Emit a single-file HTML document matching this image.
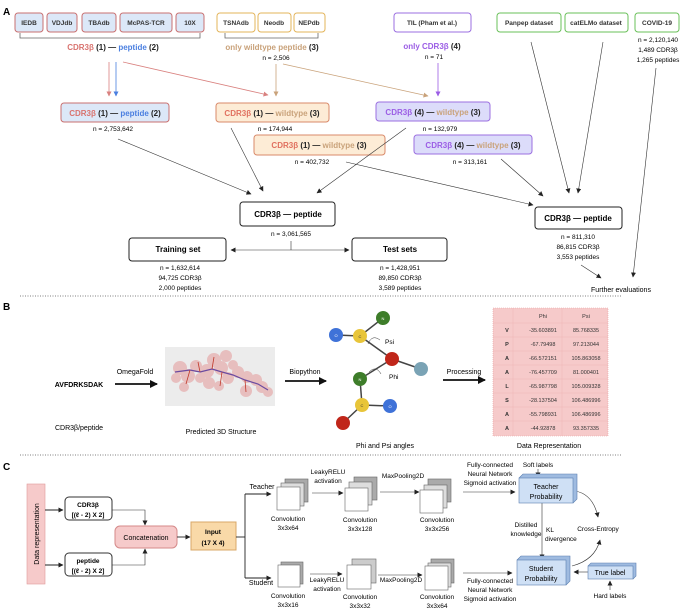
<!DOCTYPE html>
<html><head><meta charset="utf-8"><style>
html,body{margin:0;padding:0;background:#fff;}
svg{display:block;font-family:"Liberation Sans",Arial,sans-serif;}
.b{font-weight:bold;}
</style></head><body>
<svg width="686" height="610" viewBox="0 0 686 610" xmlns="http://www.w3.org/2000/svg">
<defs>
<marker id="ak" markerWidth="5" markerHeight="5" refX="4.5" refY="2.5" orient="auto" markerUnits="userSpaceOnUse"><path d="M0,0 L5,2.5 L0,5z" fill="#222"/></marker>
<marker id="ar" markerWidth="5" markerHeight="5" refX="4.5" refY="2.5" orient="auto" markerUnits="userSpaceOnUse"><path d="M0,0 L5,2.5 L0,5z" fill="#d9817f"/></marker>
<marker id="ab" markerWidth="5" markerHeight="5" refX="4.5" refY="2.5" orient="auto" markerUnits="userSpaceOnUse"><path d="M0,0 L5,2.5 L0,5z" fill="#4a7fe0"/></marker>
<marker id="ao" markerWidth="5" markerHeight="5" refX="4.5" refY="2.5" orient="auto" markerUnits="userSpaceOnUse"><path d="M0,0 L5,2.5 L0,5z" fill="#c9a27a"/></marker>
<marker id="ap" markerWidth="5" markerHeight="5" refX="4.5" refY="2.5" orient="auto" markerUnits="userSpaceOnUse"><path d="M0,0 L5,2.5 L0,5z" fill="#9b5de5"/></marker>
<marker id="aB" markerWidth="8" markerHeight="8" refX="7" refY="4" orient="auto" markerUnits="userSpaceOnUse"><path d="M0,0 L8,4 L0,8z" fill="#111"/></marker>
</defs>

<!-- ===== A ===== -->
<text x="3" y="15" font-size="10" class="b">A</text>
<g fill="#dce8f8" stroke="#c97070" stroke-width="1">
<rect x="15" y="13" width="28" height="19" rx="3"/>
<rect x="47" y="13" width="30" height="19" rx="3"/>
<rect x="82" y="13" width="34" height="19" rx="3"/>
<rect x="120" y="13" width="52" height="19" rx="3"/>
<rect x="176" y="13" width="28" height="19" rx="3"/>
</g>
<g font-size="6.5" class="b" text-anchor="middle" fill="#333">
<text x="29" y="25">IEDB</text><text x="62" y="25">VDJdb</text><text x="99" y="25">TBAdb</text><text x="146" y="25">McPAS-TCR</text><text x="190" y="25">10X</text>
</g>
<g fill="#fff" stroke="#e3b45a" stroke-width="1">
<rect x="217" y="13" width="38" height="19" rx="3"/>
<rect x="258" y="13" width="33" height="19" rx="3"/>
<rect x="294" y="13" width="31" height="19" rx="3"/>
</g>
<g font-size="6.5" class="b" text-anchor="middle" fill="#333">
<text x="236" y="25">TSNAdb</text><text x="274" y="25">Neodb</text><text x="309" y="25">NEPdb</text>
</g>
<path d="M20,33 V38 H200 V33" fill="none" stroke="#666" stroke-width="0.8"/>
<path d="M225,33 V38 H318 V33" fill="none" stroke="#666" stroke-width="0.8"/>
<text x="113" y="50" font-size="8" class="b" text-anchor="middle"><tspan fill="#d9736f">CDR3β</tspan><tspan fill="#222"> (1) — </tspan><tspan fill="#4a7fe0">peptide</tspan><tspan fill="#222"> (2)</tspan></text>
<text x="272" y="50" font-size="8" class="b" text-anchor="middle"><tspan fill="#c9a27a">only wildtype peptide</tspan><tspan fill="#222"> (3)</tspan></text>
<text x="276" y="60" font-size="6.5" text-anchor="middle">n = 2,506</text>

<rect x="394" y="13" width="77" height="19" rx="3" fill="#fff" stroke="#9b6fe0"/>
<text x="432" y="25" font-size="6.5" class="b" text-anchor="middle" fill="#333">TIL (Pham et al.)</text>
<text x="432" y="49" font-size="8" class="b" text-anchor="middle"><tspan fill="#9b5de5">only CDR3β</tspan><tspan fill="#222"> (4)</tspan></text>
<text x="434" y="59" font-size="6.5" text-anchor="middle">n = 71</text>

<g fill="#fff" stroke="#6ac05a" stroke-width="1">
<rect x="497" y="13" width="64" height="19" rx="3"/>
<rect x="565" y="13" width="63" height="19" rx="3"/>
<rect x="635" y="13" width="44" height="19" rx="3"/>
</g>
<g font-size="6.5" class="b" text-anchor="middle" fill="#333">
<text x="529" y="25">Panpep dataset</text><text x="596" y="25">catELMo dataset</text><text x="657" y="25">COVID-19</text>
</g>
<g font-size="6.5" text-anchor="middle"><text x="658" y="42">n = 2,120,140</text><text x="658" y="52">1,489 CDR3β</text><text x="658" y="62">1,265 peptides</text></g>

<line x1="109" y1="62" x2="109" y2="96" stroke="#d9817f" stroke-width="0.8" marker-end="url(#ar)"/>
<line x1="116" y1="62" x2="116" y2="96" stroke="#4a7fe0" stroke-width="0.8" marker-end="url(#ab)"/>
<line x1="123" y1="62" x2="268" y2="95" stroke="#d9817f" stroke-width="0.8" marker-end="url(#ar)"/>
<line x1="276" y1="64" x2="276" y2="96" stroke="#c9a27a" stroke-width="0.8" marker-end="url(#ao)"/>
<line x1="283" y1="64" x2="428" y2="96" stroke="#c9a27a" stroke-width="0.8" marker-end="url(#ao)"/>
<line x1="438" y1="63" x2="438" y2="96" stroke="#9b5de5" stroke-width="0.8" marker-end="url(#ap)"/>

<rect x="61" y="103" width="108" height="19" rx="3" fill="#dce8f8" stroke="#c97070"/>
<text x="115" y="116" font-size="8" class="b" text-anchor="middle"><tspan fill="#d9736f">CDR3β</tspan><tspan fill="#222"> (1) — </tspan><tspan fill="#4a7fe0">peptide</tspan><tspan fill="#222"> (2)</tspan></text>
<text x="113" y="131" font-size="6.5" text-anchor="middle">n = 2,753,642</text>

<rect x="216" y="103" width="113" height="19" rx="3" fill="#fdecd6" stroke="#d98a6a"/>
<text x="272" y="116" font-size="8" class="b" text-anchor="middle"><tspan fill="#e0705f">CDR3β</tspan><tspan fill="#222"> (1) — </tspan><tspan fill="#c9a27a">wildtype</tspan><tspan fill="#222"> (3)</tspan></text>
<text x="275" y="131" font-size="6.5" text-anchor="middle">n = 174,944</text>

<rect x="376" y="102" width="114" height="19" rx="3" fill="#dcdcfa" stroke="#9b6fe0"/>
<text x="433" y="115" font-size="8" class="b" text-anchor="middle"><tspan fill="#9b5de5">CDR3β</tspan><tspan fill="#222"> (4) — </tspan><tspan fill="#c9a27a">wildtype</tspan><tspan fill="#222"> (3)</tspan></text>
<text x="440" y="131" font-size="6.5" text-anchor="middle">n = 132,979</text>

<rect x="254" y="135" width="131" height="20" rx="3" fill="#fdecd6" stroke="#d98a6a"/>
<text x="319" y="148" font-size="8" class="b" text-anchor="middle"><tspan fill="#e0705f">CDR3β</tspan><tspan fill="#222"> (1) — </tspan><tspan fill="#c9a27a">wildtype</tspan><tspan fill="#222"> (3)</tspan></text>
<text x="312" y="164" font-size="6.5" text-anchor="middle">n = 402,732</text>

<rect x="414" y="135" width="118" height="19" rx="3" fill="#dcdcfa" stroke="#9b6fe0"/>
<text x="473" y="148" font-size="8" class="b" text-anchor="middle"><tspan fill="#9b5de5">CDR3β</tspan><tspan fill="#222"> (4) — </tspan><tspan fill="#c9a27a">wildtype</tspan><tspan fill="#222"> (3)</tspan></text>
<text x="470" y="164" font-size="6.5" text-anchor="middle">n = 313,161</text>

<g stroke="#333" stroke-width="0.6" fill="none" marker-end="url(#ak)">
<line x1="118" y1="139" x2="251" y2="194"/>
<line x1="231" y1="128" x2="263" y2="191"/>
<line x1="406" y1="128" x2="317" y2="193"/>
<line x1="346" y1="162" x2="533" y2="205"/>
<line x1="501" y1="159" x2="543" y2="196"/>
<line x1="531" y1="42" x2="569" y2="193"/>
<line x1="603" y1="42" x2="578" y2="193"/>
<line x1="656" y1="68" x2="633" y2="277"/>
<line x1="581" y1="265" x2="601" y2="278"/>
</g>

<rect x="240" y="202" width="95" height="24" rx="3" fill="#fff" stroke="#222"/>
<text x="288" y="217" font-size="8" class="b" text-anchor="middle">CDR3β — peptide</text>
<text x="291" y="236" font-size="6.5" text-anchor="middle">n = 3,061,565</text>
<path d="M291,241 V250" stroke="#333" stroke-width="0.6"/>
<line x1="291" y1="250" x2="231" y2="250" stroke="#333" stroke-width="0.6" marker-end="url(#ak)"/>
<line x1="291" y1="250" x2="349" y2="250" stroke="#333" stroke-width="0.6" marker-end="url(#ak)"/>
<rect x="129" y="238" width="97" height="23" rx="3" fill="#fff" stroke="#222"/>
<text x="178" y="252" font-size="8" class="b" text-anchor="middle">Training set</text>
<g font-size="6.5" text-anchor="middle"><text x="180" y="270">n = 1,632,614</text><text x="180" y="280">94,725 CDR3β</text><text x="180" y="290">2,000 peptides</text></g>
<rect x="352" y="238" width="95" height="23" rx="3" fill="#fff" stroke="#222"/>
<text x="400" y="252" font-size="8" class="b" text-anchor="middle">Test sets</text>
<g font-size="6.5" text-anchor="middle"><text x="400" y="270">n = 1,428,951</text><text x="400" y="280">89,850 CDR3β</text><text x="400" y="290">3,589 peptides</text></g>

<rect x="535" y="207" width="87" height="22" rx="3" fill="#fff" stroke="#222"/>
<text x="578" y="221" font-size="8" class="b" text-anchor="middle">CDR3β — peptide</text>
<g font-size="6.5" text-anchor="middle"><text x="578" y="239">n = 811,310</text><text x="578" y="249">86,815 CDR3β</text><text x="578" y="259">3,553 peptides</text></g>
<text x="621" y="292" font-size="7" text-anchor="middle">Further evaluations</text>

<line x1="20" y1="296" x2="622" y2="296" stroke="#555" stroke-width="0.8" stroke-dasharray="1,1.5"/>

<!-- ===== B ===== -->
<text x="3" y="310" font-size="10" class="b">B</text>
<text x="79" y="387" font-size="7" class="b" text-anchor="middle">AVFDRKSDAK</text>
<text x="79" y="430" font-size="7" text-anchor="middle">CDR3β/peptide</text>
<line x1="115" y1="384" x2="157" y2="384" stroke="#111" stroke-width="1.8" marker-end="url(#aB)"/>
<text x="135" y="374" font-size="7" text-anchor="middle">OmegaFold</text>
<rect x="165" y="347" width="110" height="59" fill="#ececec"/>
<g fill="#e07a7a" opacity="0.4">
<circle cx="180" cy="368" r="7"/><circle cx="188" cy="376" r="7"/><circle cx="196" cy="366" r="6"/><circle cx="207" cy="371" r="7"/>
<circle cx="214" cy="360" r="7"/><circle cx="221" cy="368" r="7"/><circle cx="226" cy="356" r="6"/><circle cx="209" cy="383" r="6"/>
<circle cx="228" cy="378" r="6"/><circle cx="238" cy="372" r="6"/><circle cx="247" cy="377" r="6"/><circle cx="256" cy="380" r="6"/>
<circle cx="262" cy="387" r="6"/><circle cx="246" cy="391" r="6"/><circle cx="184" cy="387" r="5"/><circle cx="268" cy="392" r="5"/>
<circle cx="200" cy="378" r="5"/><circle cx="233" cy="365" r="5"/><circle cx="219" cy="386" r="5"/><circle cx="176" cy="378" r="5"/>
</g>
<path d="M175,372 L190,370 L200,372 L212,369 L222,372 L233,375 L245,380 L258,384 L268,390" stroke="#6a4aa0" stroke-width="1.2" fill="none"/>
<path d="M190,370 L186,384 M212,369 L214,357 M222,372 L220,386 M245,380 L246,392 M200,372 L198,362" stroke="#c0392b" stroke-width="0.8" fill="none"/>
<text x="221" y="434" font-size="7" text-anchor="middle">Predicted 3D Structure</text>
<line x1="285" y1="381" x2="326" y2="381" stroke="#111" stroke-width="1.8" marker-end="url(#aB)"/>
<text x="305" y="374" font-size="7" text-anchor="middle">Biopython</text>

<g stroke="#444" stroke-width="1.5">
<line x1="336" y1="335" x2="360" y2="336"/><line x1="360" y1="336" x2="383" y2="318"/>
<line x1="360" y1="336" x2="392" y2="359"/><line x1="392" y1="359" x2="421" y2="369"/>
<line x1="392" y1="359" x2="360" y2="379"/><line x1="360" y1="379" x2="362" y2="405"/>
<line x1="362" y1="405" x2="390" y2="406"/><line x1="362" y1="405" x2="343" y2="423"/>
</g>
<g stroke="#333" stroke-width="0.5" fill="none">
<path d="M368,344 Q372,334 380,340" /><path d="M369,372 Q376,365 381,374"/>
</g>
<circle cx="383" cy="318" r="7" fill="#3e7d2a"/><circle cx="360" cy="336" r="7" fill="#e8c53a"/>
<circle cx="336" cy="335" r="7" fill="#3f72d8"/><circle cx="392" cy="359" r="7" fill="#c0261a"/>
<circle cx="421" cy="369" r="7" fill="#7aa3b5"/><circle cx="360" cy="379" r="7" fill="#3e7d2a"/>
<circle cx="362" cy="405" r="7" fill="#e8c53a"/><circle cx="390" cy="406" r="7" fill="#3f72d8"/>
<circle cx="343" cy="423" r="7" fill="#c0261a"/>
<g font-size="4" text-anchor="middle" fill="#fff"><text x="383" y="320">N</text><text x="360" y="338" fill="#333">C</text><text x="336" y="337">O</text><text x="360" y="381">N</text><text x="362" y="407" fill="#333">C</text><text x="390" y="408">O</text></g>
<text x="385" y="344" font-size="6.5">Psi</text><text x="389" y="379" font-size="6.5">Phi</text>
<text x="385" y="448" font-size="7" text-anchor="middle">Phi and Psi angles</text>
<line x1="443" y1="380" x2="485" y2="380" stroke="#111" stroke-width="1.8" marker-end="url(#aB)"/>
<text x="464" y="374" font-size="7" text-anchor="middle">Processing</text>

<rect x="493" y="308" width="115" height="128" fill="#f6caca" stroke="#e7a0a0" stroke-width="0.6" stroke-dasharray="1,1"/>
<g stroke="#efb6b6" stroke-width="0.5"><line x1="513" y1="308" x2="513" y2="436"/><line x1="562" y1="308" x2="562" y2="436"/>
<line x1="493" y1="323" x2="608" y2="323"/><line x1="493" y1="337" x2="608" y2="337"/><line x1="493" y1="351" x2="608" y2="351"/><line x1="493" y1="365" x2="608" y2="365"/><line x1="493" y1="379" x2="608" y2="379"/><line x1="493" y1="393" x2="608" y2="393"/><line x1="493" y1="407" x2="608" y2="407"/><line x1="493" y1="421" x2="608" y2="421"/></g>
<g font-size="5.5" text-anchor="middle" fill="#333">
<text x="543" y="318">Phi</text><text x="586" y="318">Psi</text>
<g class="b"><text x="507" y="332">V</text><text x="507" y="346">P</text><text x="507" y="360">A</text><text x="507" y="374">A</text><text x="507" y="388">L</text><text x="507" y="402">S</text><text x="507" y="416">A</text><text x="507" y="430">A</text></g>
<text x="543" y="332">-35.603891</text><text x="586" y="332">85.768335</text>
<text x="543" y="346">-67.79498</text><text x="586" y="346">97.213044</text>
<text x="543" y="360">-66.572151</text><text x="586" y="360">105.863058</text>
<text x="543" y="374">-76.457709</text><text x="586" y="374">81.000401</text>
<text x="543" y="388">-65.987798</text><text x="586" y="388">105.009328</text>
<text x="543" y="402">-28.137504</text><text x="586" y="402">106.486996</text>
<text x="543" y="416">-55.798931</text><text x="586" y="416">106.486996</text>
<text x="543" y="430">-44.92878</text><text x="586" y="430">93.357335</text>
</g>
<text x="549" y="448" font-size="7" text-anchor="middle">Data Representation</text>

<line x1="20" y1="455" x2="622" y2="455" stroke="#555" stroke-width="0.8" stroke-dasharray="1,1.5"/>

<!-- ===== C ===== -->
<text x="3" y="470" font-size="10" class="b">C</text>
<rect x="27" y="484" width="18" height="100" fill="#f6caca" stroke="#e09a9a" stroke-width="0.6"/>
<text transform="translate(39,534) rotate(-90)" font-size="7" text-anchor="middle">Data representation</text>
<line x1="45" y1="510" x2="63" y2="510" stroke="#222" stroke-width="0.9" marker-end="url(#ak)"/>
<line x1="45" y1="565" x2="63" y2="565" stroke="#222" stroke-width="0.9" marker-end="url(#ak)"/>
<rect x="65" y="497" width="47" height="23" rx="4" fill="#fff" stroke="#333"/>
<text x="88" y="507" font-size="6.5" class="b" text-anchor="middle">CDR3β</text>
<text x="88" y="517" font-size="6.5" class="b" text-anchor="middle">[(ℓ - 2) X 2]</text>
<rect x="65" y="553" width="47" height="23" rx="4" fill="#fff" stroke="#333"/>
<text x="88" y="563" font-size="6.5" class="b" text-anchor="middle">peptide</text>
<text x="88" y="573" font-size="6.5" class="b" text-anchor="middle">[(ℓ - 2) X 2]</text>
<path d="M112,510 H145 V525" stroke="#333" stroke-width="0.6" fill="none" marker-end="url(#ak)"/>
<path d="M112,565 H145 V549" stroke="#333" stroke-width="0.6" fill="none" marker-end="url(#ak)"/>
<rect x="115" y="526" width="62" height="22" rx="5" fill="#f6caca" stroke="#d58a8a"/>
<text x="146" y="540" font-size="7" text-anchor="middle">Concatenation</text>
<line x1="177" y1="537" x2="190" y2="537" stroke="#222" stroke-width="0.9" marker-end="url(#ak)"/>
<rect x="191" y="522" width="45" height="28" fill="#f9d9a8" stroke="#d9a868"/>
<text x="213" y="534" font-size="6.5" class="b" text-anchor="middle">Input</text>
<text x="213" y="545" font-size="6.5" class="b" text-anchor="middle">(17 X 4)</text>
<path d="M236,537 H245" stroke="#222" stroke-width="0.9"/>
<path d="M245,494 V578" stroke="#222" stroke-width="0.9"/>
<line x1="245" y1="494" x2="271" y2="494" stroke="#222" stroke-width="0.9" marker-end="url(#ak)"/>
<line x1="245" y1="578" x2="271" y2="578" stroke="#222" stroke-width="0.9" marker-end="url(#ak)"/>
<text x="262" y="489" font-size="7" text-anchor="middle">Teacher</text>
<text x="261" y="585" font-size="7" text-anchor="middle">Student</text>

<g stroke="#666" stroke-width="0.6">
<rect x="285" y="479" width="23" height="23" fill="#aaa"/><rect x="281" y="483" width="23" height="23" fill="#ddd"/><rect x="277" y="487" width="23" height="23" fill="#fff"/>
<rect x="354" y="477" width="23" height="23" fill="#aaa"/><rect x="349" y="482" width="23" height="23" fill="#ddd"/><rect x="345" y="488" width="23" height="23" fill="#fff"/>
<rect x="428" y="479" width="23" height="23" fill="#aaa"/><rect x="424" y="485" width="23" height="23" fill="#ddd"/><rect x="420" y="490" width="23" height="23" fill="#fff"/>
<rect x="281" y="562" width="22" height="22" fill="#aaa"/><rect x="278" y="565" width="22" height="22" fill="#fff"/>
<rect x="352" y="559" width="24" height="24" fill="#ccc"/><rect x="347" y="565" width="24" height="24" fill="#fff"/>
<rect x="431" y="559" width="23" height="24" fill="#aaa"/><rect x="428" y="563" width="23" height="24" fill="#ddd"/><rect x="425" y="566" width="23" height="24" fill="#fff"/>
</g>
<g font-size="6.5" text-anchor="middle">
<text x="288" y="521">Convolution</text><text x="288" y="530">3x3x64</text>
<text x="360" y="522">Convolution</text><text x="360" y="531">3x3x128</text>
<text x="437" y="522">Convolution</text><text x="437" y="531">3x3x256</text>
<text x="288" y="598">Convolution</text><text x="288" y="607">3x3x16</text>
<text x="360" y="599">Convolution</text><text x="360" y="608">3x3x32</text>
<text x="437" y="599">Convolution</text><text x="437" y="608">3x3x64</text>
<text x="328" y="474">LeakyRELU</text><text x="328" y="483">activation</text>
<text x="327" y="582">LeakyRELU</text><text x="327" y="591">activation</text>
<text x="403" y="478">MaxPooling2D</text><text x="401" y="582">MaxPooling2D</text>
<text x="490" y="467">Fully-connected</text><text x="490" y="476">Neural Network</text><text x="490" y="485">Sigmoid activation</text>
<text x="490" y="583">Fully-connected</text><text x="490" y="592">Neural Network</text><text x="490" y="601">Sigmoid activation</text>
</g>
<g stroke="#333" stroke-width="0.6" marker-end="url(#ak)">
<line x1="312" y1="493" x2="343" y2="493"/>
<line x1="380" y1="492" x2="419" y2="492"/>
<line x1="463" y1="492" x2="515" y2="492"/>
<line x1="310" y1="574" x2="342" y2="574"/>
<line x1="378" y1="575" x2="422" y2="575"/>
<line x1="463" y1="573" x2="512" y2="573"/>
<line x1="538" y1="469" x2="538" y2="477"/>
<line x1="542" y1="503" x2="542" y2="559"/>
<line x1="588" y1="572" x2="574" y2="572"/>
<line x1="610" y1="590" x2="610" y2="581"/>
<path d="M575,491 Q593,494 598,517" fill="none"/>
<path d="M572,566 Q595,560 600,540" fill="none"/>
</g>
<path d="M519,478 L523,474 L577,474 L577,499 L573,503" fill="#9fbbe0" stroke="#5b7fb0" stroke-width="0.6"/>
<rect x="519" y="478" width="54" height="25" fill="#cfe0f5" stroke="#5b7fb0" stroke-width="0.6"/>
<text x="546" y="489" font-size="7" text-anchor="middle">Teacher</text><text x="546" y="499" font-size="7" text-anchor="middle">Probability</text>
<text x="538" y="467" font-size="6.5" text-anchor="middle">Soft labels</text>
<path d="M517,560 L521,556 L570,556 L570,581 L566,585" fill="#9fbbe0" stroke="#5b7fb0" stroke-width="0.6"/>
<rect x="517" y="560" width="49" height="25" fill="#cfe0f5" stroke="#5b7fb0" stroke-width="0.6"/>
<text x="541" y="571" font-size="7" text-anchor="middle">Student</text><text x="541" y="581" font-size="7" text-anchor="middle">Probability</text>
<g font-size="6.5"><text x="526" y="527" text-anchor="middle">Distilled</text><text x="526" y="536" text-anchor="middle">knowledge</text>
<text x="546" y="532">KL</text><text x="545" y="541">divergence</text>
<text x="598" y="531" text-anchor="middle">Cross-Entropy</text>
<text x="610" y="598" text-anchor="middle">Hard labels</text></g>
<path d="M588,566 L591,563 L636,563 L636,576 L633,579" fill="#9fbbe0" stroke="#5b7fb0" stroke-width="0.6"/>
<rect x="588" y="566" width="45" height="13" fill="#cfe0f5" stroke="#5b7fb0" stroke-width="0.6"/>
<text x="610" y="575" font-size="7" text-anchor="middle">True label</text>
</svg>
</body></html>
